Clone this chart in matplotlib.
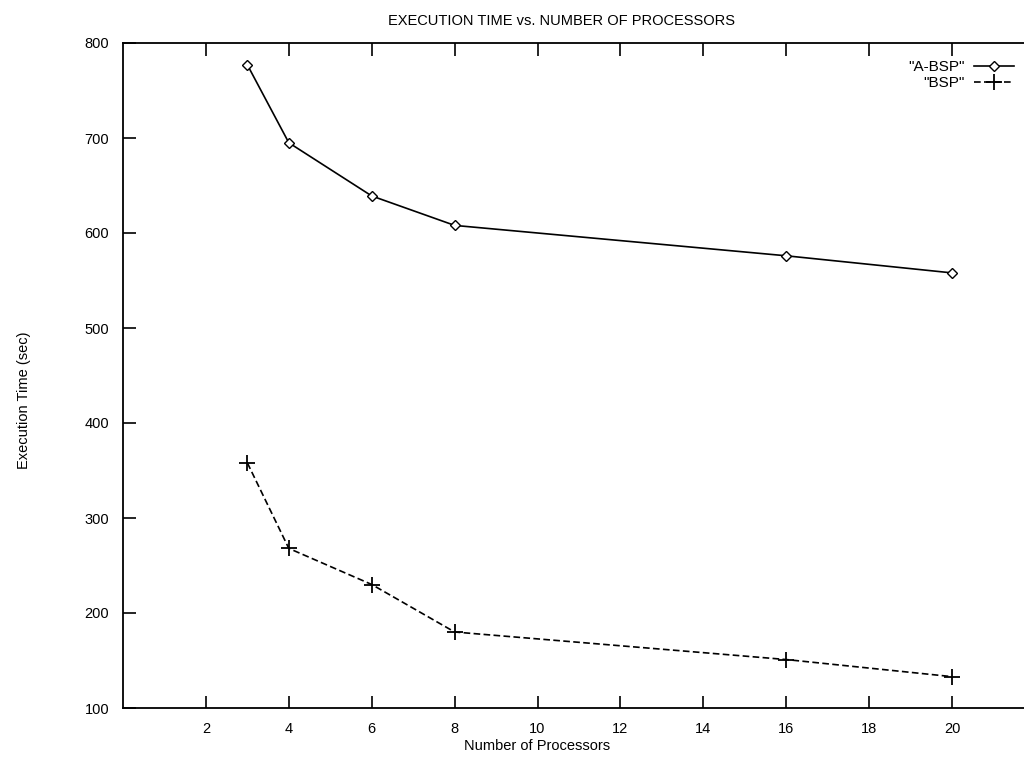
import matplotlib.pyplot as plt

# dane
procs = [3, 4, 6, 8, 16, 20]
a_bsp = [777, 695, 639, 608, 576, 558]
bsp = [358, 268, 230, 180, 151, 133]
xticks = [2, 4, 6, 8, 10, 12, 14, 16, 18, 20]
yticks = [100, 200, 300, 400, 500, 600, 700, 800]

plt.rcParams['font.family'] = ['Liberation Sans', 'DejaVu Sans']

fig = plt.figure(figsize=(10.24, 7.57), dpi=100)
# os wychodzi poza prawa krawedz, jak w oryginale
ax = fig.add_axes([123 / 1024, 49 / 757, (1035 - 123) / 1024, (708 - 43) / 757])

ax.plot(procs, a_bsp, color='black', lw=1.2, marker='D', markersize=5,
        markerfacecolor='white', markeredgewidth=1.0, label='"A-BSP"')
ax.plot(procs, bsp, color='black', lw=1.2, ls=(0, (4, 2)), marker='+',
        markersize=11, markeredgewidth=1.3, label='"BSP"')

ax.set_xlim(0, 22)
ax.set_ylim(100, 800)
ax.set_xticks(xticks)
ax.set_yticks(yticks)
ax.tick_params(direction='in', length=9, width=1.2, top=True, right=False,
               labelsize=10.5, pad=10)
for s in ax.spines.values():
    s.set_linewidth(1.3)

fig.text(561 / 1024, 1 - 21 / 757, 'EXECUTION TIME vs. NUMBER OF PROCESSORS',
         ha='center', va='center', fontsize=10.5)
fig.text(537 / 1024, 1 - 746 / 757, 'Number of Processors',
         ha='center', va='center', fontsize=10.5)
fig.text(24 / 1024, 1 - 400 / 757, 'Execution Time (sec)',
         ha='center', va='center', rotation=90, fontsize=10.5)

ax.legend(loc='upper right', bbox_to_anchor=(1014 / 1024, 1 - 60 / 757),
          bbox_transform=fig.transFigure, frameon=False, markerfirst=False,
          fontsize=11, handlelength=2.6, handletextpad=0.6,
          labelspacing=0.15, borderpad=0, borderaxespad=0)

fig.savefig('out.png', dpi=100)
